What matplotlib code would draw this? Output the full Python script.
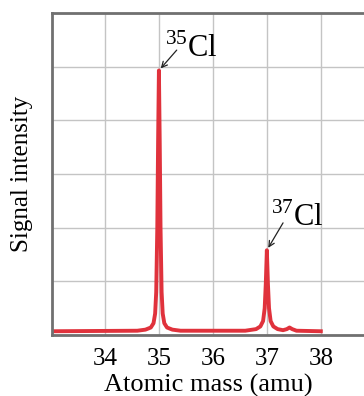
import numpy as np
import matplotlib.pyplot as plt

plt.rcParams['font.family'] = 'Liberation Serif'
plt.rcParams['mathtext.fontset'] = 'custom'
plt.rcParams['mathtext.rm'] = 'Liberation Serif'

# spectrum trace (amu, grid units)
mass = [33.0, 34.6, 34.75, 34.85, 34.9, 34.93, 34.95, 34.97, 34.985, 35.0,
        35.015, 35.03, 35.05, 35.07, 35.1, 35.15, 35.25, 35.4,
        36.6, 36.8, 36.88, 36.93, 36.96, 36.98, 37.0, 37.02, 37.04, 37.07,
        37.12, 37.2, 37.3, 37.37, 37.42, 37.47, 37.55, 38.0]
signal = [0.07, 0.08, 0.1, 0.14, 0.22, 0.4, 0.8, 2.0, 3.6, 4.93,
          3.6, 2.0, 0.8, 0.4, 0.22, 0.14, 0.1, 0.08,
          0.08, 0.11, 0.16, 0.26, 0.5, 0.95, 1.58, 0.95, 0.5, 0.26,
          0.16, 0.11, 0.09, 0.11, 0.14, 0.11, 0.08, 0.07]
ticks = [34, 35, 36, 37, 38]
# peak position, label, label position, arrow tail
peaks = [(35.0, 4.93, r'$^{35}$Cl', (35.11, 5.18), (35.33, 5.31)),
         (37.0, 1.58, r'$^{37}$Cl', (37.08, 2.03), (37.30, 2.09))]

fig = plt.figure(figsize=(3.64, 3.96), dpi=100)
ax = fig.add_axes([0.143, 0.154, 0.857, 0.813])

ax.plot(mass, signal, color='#e0323c', lw=2.8, solid_joinstyle='round')
ax.set_xlim(33.02, 38.8)
ax.set_ylim(0, 6)
ax.set_xticks(ticks)
ax.set_yticks(np.arange(0, 7, 1))
ax.set_yticklabels([])
ax.grid(True, color='#c4c4c4', lw=1)
ax.set_axisbelow(True)
ax.tick_params(length=0, labelsize=18, pad=9)

for side in ['left', 'top', 'bottom']:
    ax.spines[side].set_color('#707070')
    ax.spines[side].set_linewidth(2)
ax.spines['right'].set_visible(False)

for px, py, label, tpos, tail in peaks:
    ax.text(tpos[0], tpos[1], label, fontsize=22)
    ax.annotate('', xy=(px, py), xytext=tail,
                arrowprops=dict(arrowstyle='->', color='#222222', lw=0.9,
                                shrinkA=0, shrinkB=2))

ax.set_xlabel('Atomic mass (amu)', fontsize=19, labelpad=3)
ax.set_ylabel('Signal intensity', fontsize=18, labelpad=5)

fig.savefig('out.png', dpi=100)
